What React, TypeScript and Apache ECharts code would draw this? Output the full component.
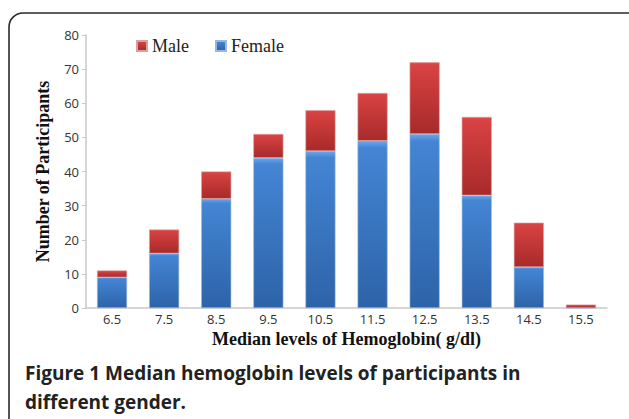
import React, { useEffect, useRef } from "react";
import * as echarts from "echarts";

const categories = ["6.5", "7.5", "8.5", "9.5", "10.5", "11.5", "12.5", "13.5", "14.5", "15.5"];
const female = [9, 16, 32, 44, 46, 49, 51, 33, 12, 0];
const male = [2, 7, 8, 7, 12, 14, 21, 23, 13, 1];
const yTicks = { min: 0, max: 80, interval: 10 };
const captionLines = [
  "Figure 1 Median hemoglobin levels of participants in",
  "different gender.",
];

export default function App() {
  const ref = useRef<HTMLDivElement>(null);
  useEffect(() => {
    document.body.style.margin = "0";
    const chart = echarts.init(ref.current!, null, { renderer: "svg" });
    const redGrad = new echarts.graphic.LinearGradient(0, 0, 0, 1, [
      { offset: 0, color: "#e04b4b" },
      { offset: 0.04, color: "#d84242" },
      { offset: 1, color: "#a82a2a" },
    ]);
    const blueGrad = new echarts.graphic.LinearGradient(0, 0, 0, 1, [
      { offset: 0, color: "#6aa8ee" },
      { offset: 0.04, color: "#4485d4" },
      { offset: 1, color: "#2d63a8" },
    ]);
    const serif = "'Liberation Serif', 'Times New Roman', serif";
    const sans = "'Open Sans', 'Noto Sans', sans-serif";
    chart.setOption({
      animation: false,
      backgroundColor: "#ffffff",
      grid: { left: 86, right: 22, top: 35, bottom: 111, containLabel: false },
      legend: {
        left: 131,
        top: 32,
        itemWidth: 10,
        itemHeight: 10,
        itemGap: 26,
        icon: "rect",
        data: ["Male", "Female"],
        textStyle: { fontFamily: serif, fontSize: 18, color: "#222" },
      },
      xAxis: {
        type: "category",
        data: categories,
        name: "Median levels of Hemoglobin( g/dl)",
        nameLocation: "middle",
        nameGap: 21,
        nameTextStyle: { fontFamily: serif, fontSize: 18, fontWeight: "bold", color: "#111" },
        axisLine: { lineStyle: { color: "#c8c8c8", width: 1.5 } },
        axisTick: { show: false },
        axisLabel: { fontFamily: sans, fontSize: 13, color: "#333", margin: 4 },
      },
      yAxis: {
        type: "value",
        min: yTicks.min,
        max: yTicks.max,
        interval: yTicks.interval,
        name: "Number of Participants",
        nameLocation: "middle",
        nameGap: 34,
        nameTextStyle: { fontFamily: serif, fontSize: 18, fontWeight: "bold", color: "#111" },
        axisLine: { show: true, lineStyle: { color: "#c8c8c8", width: 1.5 } },
        axisTick: { show: true, length: 4, lineStyle: { color: "#c8c8c8" } },
        splitLine: { show: false },
        axisLabel: { fontFamily: sans, fontSize: 13, color: "#333", margin: 7 },
      },
      series: [
        {
          name: "Female",
          type: "bar",
          stack: "total",
          data: female,
          barWidth: 30,
          itemStyle: { color: blueGrad, borderColor: "#9ab7db", borderWidth: 0.6 },
        },
        {
          name: "Male",
          type: "bar",
          stack: "total",
          data: male,
          barWidth: 30,
          itemStyle: { color: redGrad, borderColor: "#d9a0a0", borderWidth: 0.6 },
        },
      ],
      graphic: [
        {
          type: "rect",
          shape: { x: 9, y: 13, width: 640, height: 440, r: 14 },
          style: { fill: "none", stroke: "#2a2a2a", lineWidth: 1.6 },
          silent: true,
        },
        ...captionLines.map((t, i) => ({
          type: "text",
          left: 25,
          top: 363 + i * 29,
          style: {
            text: t,
            fontFamily: sans,
            fontSize: 19,
            fontWeight: "bold",
            fill: "#222",
          },
        })),
      ],
    });
    return () => chart.dispose();
  }, []);
  return (
    <div
      ref={ref}
      style={{ position: "absolute", left: 0, top: 0, width: 629, height: 419 }}
    />
  );
}
